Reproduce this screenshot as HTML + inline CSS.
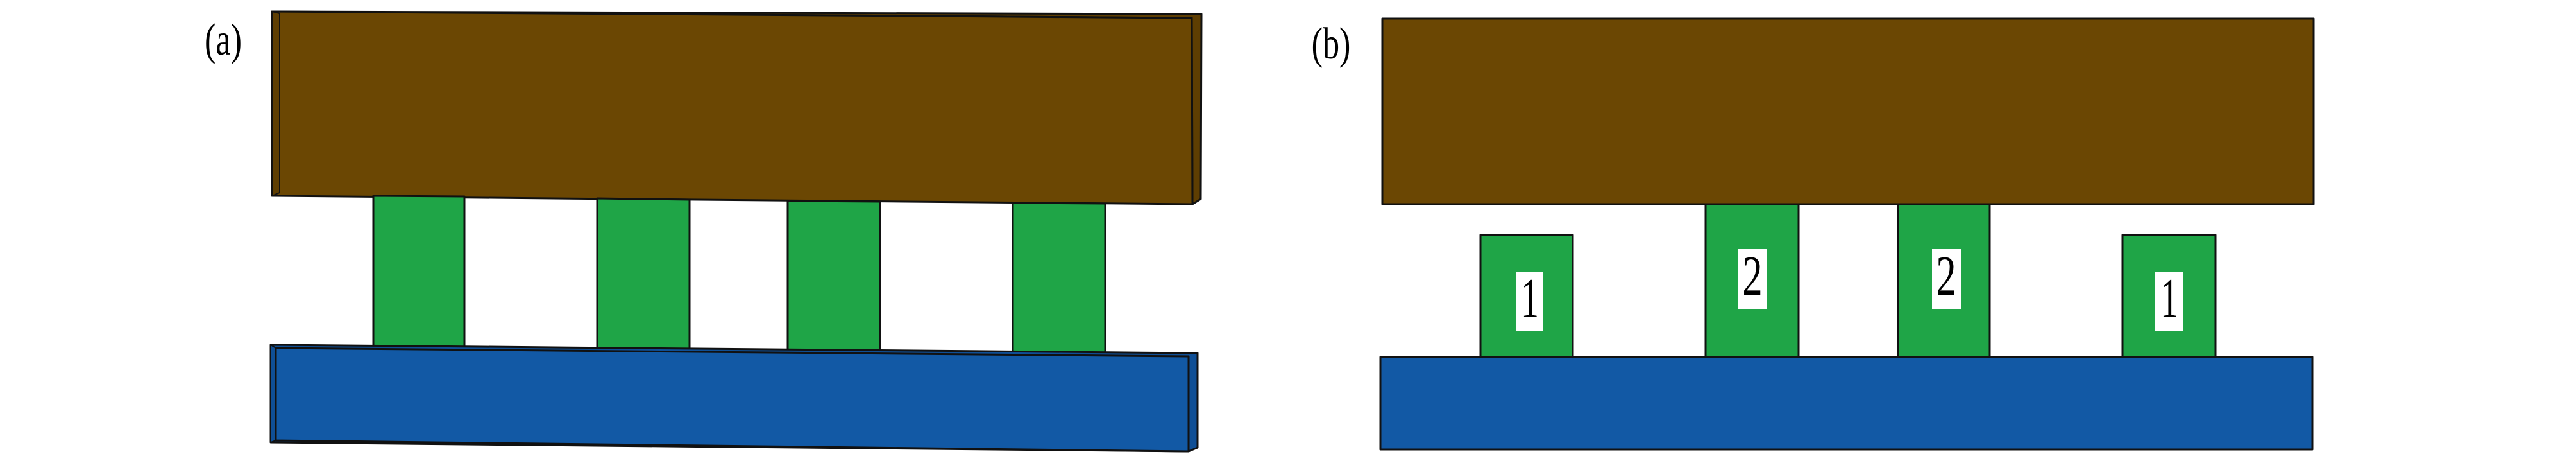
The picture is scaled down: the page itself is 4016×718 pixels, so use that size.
<!DOCTYPE html>
<html><head><meta charset="utf-8"><style>
html,body{margin:0;padding:0;background:#fff;width:4016px;height:718px;overflow:hidden}
svg{display:block}
</style></head><body>
<svg width="4016" height="718" viewBox="0 0 4016 718" xmlns="http://www.w3.org/2000/svg">
<g stroke="#111" stroke-width="3" stroke-linejoin="round">
<polygon points="424,18 1873,22 1872,310 1859,318 1858,28" fill="#5e3e02"/>
<polygon points="424,18 1858,28 1859,318 424,305" fill="#6b4703"/>
<polygon points="424,18 436,21 436,300 424,305" fill="#5e3e02" stroke-width="2"/>
<polygon points="582,305 724,306 724,541 582,539" fill="#1fa547"/>
<polygon points="931,309 1075,311 1075,547 931,544" fill="#1fa547"/>
<polygon points="1228,313 1372,314 1372,548 1228,546" fill="#1fa547"/>
<polygon points="1579,316 1723,317 1723,554 1579,552" fill="#1fa547"/>
<polygon points="422,537 1867,550 1867,697 1853,703 422,689" fill="#0f4f96"/>
<polygon points="430,542 1853,555 1853,703 430,686" fill="#1259a5"/>
<polygon points="422,537 430,542 430,686 422,689" fill="#0f4f96" stroke-width="2"/>
<rect x="2155" y="29" width="1452" height="289" fill="#6b4703"/>
<rect x="2308" y="366" width="144" height="190" fill="#1fa547"/>
<rect x="2659" y="318" width="145" height="238" fill="#1fa547"/>
<rect x="2959" y="318" width="143" height="238" fill="#1fa547"/>
<rect x="3309" y="366" width="145" height="190" fill="#1fa547"/>
<rect x="2152" y="556" width="1453" height="144" fill="#1259a5"/>
</g>
<g fill="#fff">
<rect x="2363" y="423" width="43" height="93"/>
<rect x="2710" y="388" width="44" height="94"/>
<rect x="3012" y="388" width="45" height="94"/>
<rect x="3360" y="423" width="43" height="93"/>
</g>
<g font-family="'Liberation Serif', 'DejaVu Serif', serif" font-size="70" fill="#000" text-anchor="middle">
<text x="2385" y="494" transform="translate(2385 494) scale(0.8 1.25) translate(-2385 -494)">1</text>
<text x="2732" y="459" transform="translate(2732 459) scale(0.9 1.25) translate(-2732 -459)">2</text>
<text x="3034" y="459" transform="translate(3034 459) scale(0.9 1.25) translate(-3034 -459)">2</text>
<text x="3382" y="494" transform="translate(3382 494) scale(0.8 1.25) translate(-3382 -494)">1</text>
<text x="348" y="85" font-size="58" transform="translate(348 85) scale(0.9 1.2) translate(-348 -85)">(a)</text>
<text x="2075" y="91" font-size="58" transform="translate(2075 91) scale(0.9 1.2) translate(-2075 -91)">(b)</text>
</g>
</svg>
</body></html>
